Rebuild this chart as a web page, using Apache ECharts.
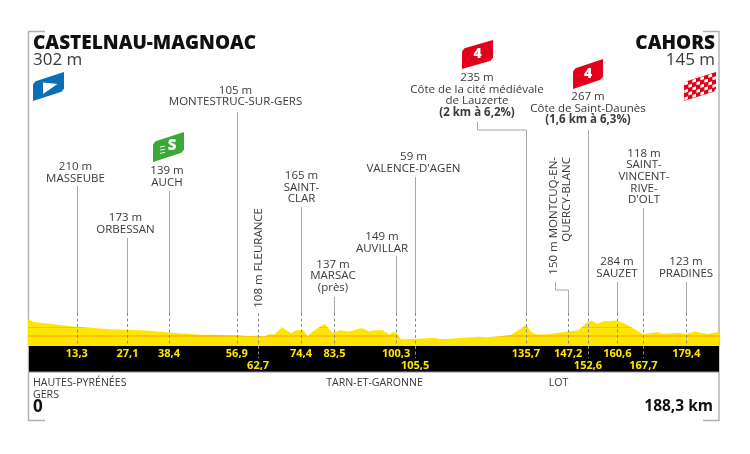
<!DOCTYPE html>
<html><head><meta charset="utf-8">
<style>html,body{margin:0;padding:0;background:#fff}#c{width:750px;height:454px}</style>
<script src="https://cdn.jsdelivr.net/npm/echarts@6/dist/echarts.min.js"></script>
</head><body><div id="c"></div>
<script>
// ---- data ----
const profileKm  = [0,0.5,1.5,4,8,13.3,18,22,27.1,33,38.4,42,47,50,53,56.9,60,62.7,64.5,66,67,69.2,71.7,73,75,76.2,78,80.8,83,83.5,85,87.5,91,93,94.4,96.6,98.5,99.5,100.3,101.7,105.5,109.9,111,112.6,115,122.6,125,129,131.5,134.5,135.7,137,138.5,141.8,143.5,147.2,150,152.2,152.6,153.6,155.2,156.7,160.6,162.7,165.4,167.7,169.4,171.7,173,177.1,179.4,181.8,185.3,188.3];
const profileAlt = [302,295,268,255,232,210,195,180,173,160,139,128,112,112,108,105,98,100,92,120,112,202,129,165,165,96,165,242,135,137,165,150,194,150,165,165,115,145,135,56,59,72,72,58,62,88,80,96,108,190,235,150,115,118,130,150,165,258,267,282,245,275,284,245,178,118,130,145,120,137,123,150,120,145];
const markKm   = [13.3,27.1,38.4,56.9,62.7,74.4,83.5,100.3,105.5,135.7,147.2,152.6,160.6,167.7,179.4];
const markKmText = ['13,3','27,1','38,4','56,9','62,7','74,4','83,5','100,3','105,5','135,7','147,2','152,6','160,6','167,7','179,4'];
const markAlt  = ['210 m','173 m','139 m','105 m','108 m','165 m','137 m','149 m','59 m','235 m','150 m','267 m','284 m','118 m','123 m'];
const markName = [['MASSEUBE'],['ORBESSAN'],['AUCH'],['MONTESTRUC-SUR-GERS'],['FLEURANCE'],['SAINT-','CLAR'],['MARSAC','(près)'],['AUVILLAR'],["VALENCE-D'AGEN"],['Côte de la cité médiévale','de Lauzerte'],['MONTCUQ-EN-','QUERCY-BLANC'],['Côte de Saint-Daunès'],['SAUZET'],['SAINT-','VINCENT-','RIVE-',"D'OLT"],['PRADINES']];
const markNote = [,,,,,,,,,'(2 km à 6,2%)',,'(1,6 km à 6,3%)',,,];
const startName = 'CASTELNAU-MAGNOAC', startAlt = '302 m', endName = 'CAHORS', endAlt = '145 m';
const regions = ['HAUTES-PYRÉNÉES','GERS','TARN-ET-GARONNE','LOT'];
const distStart = '0', distEnd = '188,3 km', totalKm = 188.3;
const contourLevels = [100,200];

// ---- layout (pixels, style only) ----
const FONT = '"Open Sans"';
const INK = '#3a3a3a', YEL = '#ffe600', ORANGE = '#f6c40c', LEAD = '#a8a8a8', DASH = '#8a8a8a', FRAME = '#b0b0b0';
const gridTop = 0, gridBottom = 346, bandBottom = 372, gridLeft = 28, gridW = 691;
const yMin = -25, yMax = 4179;
const lineH = 11.6, fs = 11.5;
// per mark: label centre x, first line centre y, leader top, km row, optional kink
const L = [
 {labelX:75.5,y:167,top:186,row:0},{labelX:125.5,y:218,top:238,row:0},{labelX:167,y:171,top:191,row:0},
 {labelX:235.5,y:90.5,top:112,row:0},{rot:1,yEnd:208,top:310,row:1},{labelX:301.5,y:176,top:207,row:0},
 {labelX:333,y:264.5,top:297,row:0},{labelX:382,y:237,top:256,row:0},{labelX:413.5,y:157,top:177,row:1},
 {labelX:477,y:78,top:130,row:0,kink:{x:477,y0:122}},
 {rot:2,yEnd:157,top:290,row:0,kink:{x:555,y0:282}},
 {labelX:588,y:97,top:130,row:1},{labelX:617,y:262,top:282,row:0},{labelX:644,y:153.5,top:208,row:1},{labelX:686,y:262,top:282,row:0}
];

function yPix(m){return gridBottom-(m-yMin)*(gridBottom-gridTop)/(yMax-yMin);}
function areaFill(){
  const stops=[{offset:0,color:YEL}];
  contourLevels.slice().reverse().forEach(l=>{
    const p=yPix(l)/gridBottom,d=.8/gridBottom;
    stops.push({offset:p-d,color:YEL},{offset:p-d,color:ORANGE},{offset:p+d,color:ORANGE},{offset:p+d,color:YEL});
  });
  stops.push({offset:1,color:YEL});
  return {type:'linear',x:0,y:0,x2:0,y2:gridBottom,global:true,colorStops:stops};
}
function txt(text,x,y,o){o=o||{};return {type:'text',x:x,y:y,rotation:o.rot||0,silent:true,style:{text:text,fill:o.fill||INK,
  font:(o.weight||'400')+' '+(o.size||fs)+'px '+FONT,textAlign:o.align||'center',textVerticalAlign:'middle'}};}
function ln(x1,y1,x2,y2,c,w,dash){return {type:'line',silent:true,shape:{x1,y1,x2,y2},style:{stroke:c,lineWidth:w||1,lineDash:dash||null}};}

function renderBand(params,api){
  const a=api.coord([0,yMin]),b=api.coord([totalKm,yMin]);
  return {type:'group',children:[
    {type:'rect',silent:true,shape:{x:a[0]+1,y:a[1],width:b[0]-a[0]-1,height:bandBottom-a[1]},style:{fill:'#000'}},
    ln(a[0]+1,bandBottom,b[0],bandBottom,'#8c8c8c',1)
  ]};
}
function renderMark(params,api){
  const i=params.dataIndex,l=L[i],p=api.coord([api.value(0),0]),x=Math.round(p[0])+.5;
  const ch=[];
  ch.push(txt(markKmText[i],p[0],l.row?366:353.5,{fill:YEL,weight:'700',size:11}));
  if(l.rot!==1) ch.push(ln(x,l.top,x,313,LEAD,1));
  ch.push(ln(x,313,x,l.row?358:344,DASH,1,[3,2.5]));
  if(l.kink){
    ch.push(ln(l.kink.x+.5,l.kink.y0,l.kink.x+.5,l.top,LEAD,1));
    ch.push(ln(l.kink.x+.5,l.top,x,l.top,LEAD,1));
  }
  if(l.rot===1){
    ch.push(txt(markAlt[i]+' '+markName[i][0],x,l.yEnd,{rot:Math.PI/2,align:'right'}));
  } else if(l.rot===2){
    ch.push(txt(markAlt[i]+' '+markName[i][0],554,l.yEnd,{rot:Math.PI/2,align:'right'}));
    ch.push(txt(markName[i][1],567,l.yEnd,{rot:Math.PI/2,align:'right'}));
  } else {
    const rows=[markAlt[i]].concat(markName[i]);
    rows.forEach((t,k)=>ch.push(txt(t,l.labelX,l.y+k*lineH)));
    if(markNote[i]) ch.push(txt(markNote[i],l.labelX,l.y+rows.length*lineH,{weight:'700'}));
  }
  return {type:'group',children:ch};
}

// badges
function badge(x0,x1,yl,yr,h,fill){
  const c=2.5,dy=(yl-yr)*c/(x1-x0);
  return {type:'polygon',silent:true,shape:{points:[[x0,yl+c],[x0+c,yl-dy],[x1,yr],[x1,yr+h-c],[x1-c,yr+h+dy],[x0,yl+h]]},style:{fill:fill}};
}
function slant(x,x0,x1,yl,yr){return yl+(x-x0)*(yr-yl)/(x1-x0);}
const g=[];
g.push({type:'polyline',silent:true,shape:{points:[[45,31.5],[28.5,31.5],[28.5,420.5],[45,420.5]]},style:{stroke:FRAME,lineWidth:1.4,fill:'none'}});
g.push({type:'polyline',silent:true,shape:{points:[[703,31.5],[719,31.5],[719,420.5],[703,420.5]]},style:{stroke:FRAME,lineWidth:1.4,fill:'none'}});
function gtext(t,x,y,o){g.push({type:'text',x:x,y:y,silent:true,style:{text:t,fill:o.fill||INK,font:(o.weight||'400')+' '+(o.size||10.6)+'px '+FONT,textAlign:o.align||'left',textVerticalAlign:'middle'}});}
gtext(startName,33,44,{size:19,weight:'800',fill:'#111'});
gtext(startAlt,33,60,{size:17});
gtext(endName,715,44,{size:19,weight:'800',align:'right',fill:'#111'});
gtext(endAlt,715,60,{size:17,align:'right'});
gtext(regions[0],33,382.5,{});
gtext(regions[1],33,394.5,{});
gtext(regions[2],374.5,382.5,{align:'center'});
gtext(regions[3],558.5,382.5,{align:'center'});
gtext(distStart,33,407,{size:17,weight:'700',fill:'#111'});
gtext(distEnd,713,407,{size:15.5,weight:'700',align:'right',fill:'#111'});
// start badge
g.push(badge(33,64,82,72,19,'#0b6fb8'));
g.push({type:'polygon',silent:true,shape:{points:[[43,82.5],[57.5,84],[43,94]]},style:{fill:'#fff'}});
// sprint badge
g.push(badge(153,184,142,132,20,'#3ba935'));
g.push({type:'text',x:172,y:146,silent:true,style:{text:'S',fill:'#fff',font:'800 15px '+FONT,textAlign:'center',textVerticalAlign:'middle'}});
[0,1,2].forEach(k=>g.push({type:'line',silent:true,shape:{x1:160,y1:147+k*3.2,x2:165,y2:146+k*3.2},style:{stroke:'#fff',lineWidth:.9}}));
// climb badges
g.push(badge(462,493,49,40,20,'#e2001a'));
g.push({type:'text',x:477.5,y:54.5,silent:true,style:{text:'4',fill:'#fff',font:'800 14px '+FONT,textAlign:'center',textVerticalAlign:'middle'}});
g.push(badge(573,603,69,59,20,'#e2001a'));
g.push({type:'text',x:588,y:74,silent:true,style:{text:'4',fill:'#fff',font:'800 14px '+FONT,textAlign:'center',textVerticalAlign:'middle'}});
// finish flag
g.push(badge(684,716,82,72,19,'#e2001a'));
for(let c=0;c<8;c++)for(let r=0;r<5;r++){ if((c+r)%2) continue;
  const w=32/8,xa=684+c*w+.4,xb=xa+w-.4,h=19/5,
    ya=slant(xa,684,716,82,72)+r*h+.4,yb=slant(xb,684,716,82,72)+r*h+.4;
  g.push({type:'polygon',silent:true,shape:{points:[[xa,ya],[xb,yb],[xb,yb+h-.8],[xa,ya+h-.8]]},style:{fill:'#fff'}});
}

const chart=echarts.init(document.getElementById('c'),null,{renderer:'canvas'});
chart.setOption({
  animation:false,backgroundColor:'#fff',
  grid:{left:gridLeft,width:gridW,top:gridTop,height:gridBottom-gridTop},
  xAxis:{type:'value',min:0,max:totalKm,show:false},
  yAxis:{type:'value',min:yMin,max:yMax,show:false},
  graphic:g,
  series:[
    {type:'line',data:profileKm.map((k,i)=>[k,profileAlt[i]]),showSymbol:false,silent:true,lineStyle:{width:0},areaStyle:{color:areaFill(),opacity:1,origin:'start'},z:2},
    {type:'custom',data:[[0,yMin]],renderItem:renderBand,clip:false,silent:true,z:3},
    {type:'custom',data:markKm.map((k,i)=>[k,i]),encode:{x:0,y:1},renderItem:renderMark,clip:false,silent:true,z:4}
  ]
});
</script></body></html>
